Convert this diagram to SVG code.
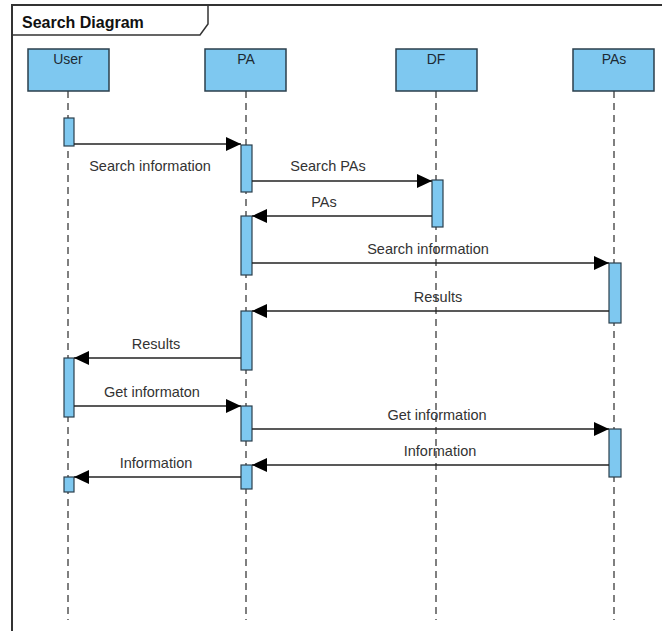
<svg xmlns="http://www.w3.org/2000/svg" width="662" height="631" viewBox="0 0 662 631">
<style>
text{font-family:"Liberation Sans",Arial,sans-serif;fill:#333;font-size:14.5px}
.title{font-weight:bold;font-size:16px;fill:#111}
.hl{font-size:14px;fill:#1c2a33}
.head{fill:#7ec8f0;stroke:#2b3f4c;stroke-width:1.5}
.act{fill:#7ec8f0;stroke:#2b3f4c;stroke-width:1.2}
.life{stroke:#555;stroke-width:1.5;stroke-dasharray:7,5;fill:none}
.msg{stroke:#222;stroke-width:1.5;fill:none;marker-end:url(#ah)}
.lbl{text-anchor:middle}
</style>
<defs>
<marker id="ah" viewBox="0 0 15 14" refX="15" refY="7" markerWidth="15" markerHeight="14" markerUnits="userSpaceOnUse" orient="auto">
<path d="M0,0 L15,7 L0,14 Z" fill="#000"/>
</marker>
</defs>
<rect width="662" height="631" fill="#fff"/>
<g id="frame">
<path d="M12,631 L12,5 L662,5" fill="none" stroke="#333" stroke-width="2"/>
<path d="M12,35 L200,35 L208,24 L208,5" fill="none" stroke="#333" stroke-width="1.5"/>
<text class="title" x="22" y="28">Search Diagram</text>
</g>
<g id="lifelines">
<line class="life" x1="68" y1="91" x2="68" y2="620"/>
<line class="life" x1="246" y1="91" x2="246" y2="620"/>
<line class="life" x1="436" y1="91" x2="436" y2="620"/>
<line class="life" x1="614" y1="91" x2="614" y2="620"/>
</g>
<g id="user">
<rect class="head" x="28" y="49" width="81" height="42"/>
<text class="lbl hl" x="68" y="64">User</text>
<rect class="act" x="64" y="118" width="10" height="28"/>
<rect class="act" x="64" y="358" width="10" height="59"/>
<rect class="act" x="64" y="477" width="10" height="15"/>
</g>
<g id="pa">
<rect class="head" x="205" y="49" width="81" height="42"/>
<text class="lbl hl" x="246" y="64">PA</text>
<rect class="act" x="241" y="145" width="11" height="47"/>
<rect class="act" x="241" y="216" width="11" height="59"/>
<rect class="act" x="241" y="311" width="11" height="59"/>
<rect class="act" x="241" y="406" width="11" height="35"/>
<rect class="act" x="241" y="465" width="11" height="24"/>
</g>
<g id="df">
<rect class="head" x="396" y="49" width="81" height="42"/>
<text class="lbl hl" x="436" y="64">DF</text>
<rect class="act" x="432" y="180" width="11" height="47"/>
</g>
<g id="pas">
<rect class="head" x="573" y="49" width="81" height="42"/>
<text class="lbl hl" x="614" y="64">PAs</text>
<rect class="act" x="609" y="263" width="12" height="60"/>
<rect class="act" x="609" y="429" width="12" height="48"/>
</g>
<g id="connectors">
<line class="msg" x1="74" y1="144" x2="241" y2="144"/>
<text class="lbl" x="150" y="171">Search information</text>
<line class="msg" x1="252" y1="181" x2="432" y2="181"/>
<text class="lbl" x="328" y="171">Search PAs</text>
<line class="msg" x1="432" y1="216" x2="252" y2="216"/>
<text class="lbl" x="324" y="207">PAs</text>
<line class="msg" x1="252" y1="263" x2="609" y2="263"/>
<text class="lbl" x="428" y="254">Search information</text>
<line class="msg" x1="609" y1="311" x2="252" y2="311"/>
<text class="lbl" x="438" y="302">Results</text>
<line class="msg" x1="241" y1="358" x2="74" y2="358"/>
<text class="lbl" x="156" y="349">Results</text>
<line class="msg" x1="74" y1="406" x2="241" y2="406"/>
<text class="lbl" x="152" y="397">Get informaton</text>
<line class="msg" x1="252" y1="429" x2="609" y2="429"/>
<text class="lbl" x="437" y="420">Get information</text>
<line class="msg" x1="609" y1="465" x2="252" y2="465"/>
<text class="lbl" x="440" y="456">Information</text>
<line class="msg" x1="241" y1="477" x2="74" y2="477"/>
<text class="lbl" x="156" y="468">Information</text>
</g>
</svg>
